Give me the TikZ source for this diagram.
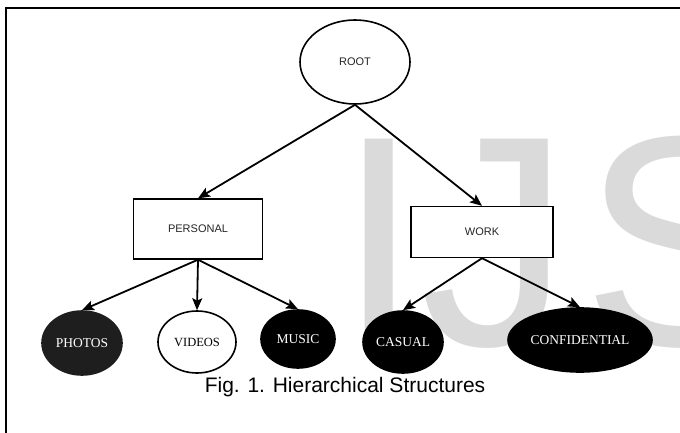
\documentclass[tikz,border=0pt]{standalone}
\usepackage{fontspec}
\setmainfont{Liberation Serif}
\newfontfamily\arialf{Liberation Sans}
\usetikzlibrary{shapes.geometric,arrows.meta}
\definecolor{wmgray}{RGB}{218,218,218}
\definecolor{photofill}{RGB}{30,30,30}
\begin{document}
\begin{tikzpicture}[x=1pt,y=-1pt,
  sansbox/.style={draw, line width=1.4pt, fill=white, rectangle, inner sep=0pt,
    font=\arialf\fontsize{11}{13}\selectfont, text=black!85},
  ovalw/.style={ellipse, draw, line width=1.6pt, fill=white, inner sep=0pt},
  ovalb/.style={ellipse, draw, line width=1.6pt, fill=black, text=white, inner sep=0pt,
    font=\fontsize{13.5}{15}\selectfont},
  edge/.style={line width=1.8pt, -{Stealth[length=12pt,width=10pt,inset=2.5pt]}}
]
\useasboundingbox (0,0) rectangle (680,433);
\clip (0,0) rectangle (680,433);
% watermark
\node[anchor=base west, inner sep=0pt, text=wmgray,
  font=\arialf\fontsize{300}{300}\selectfont] (wm) at (337,345) {IJ\kern12pt S};
% frame
\draw[line width=2pt] (6,433) -- (6,8) -- (680,8);
% nodes
\node[ovalw, minimum width=110pt, minimum height=84pt,
  font=\arialf\fontsize{11}{13}\selectfont, text=black!85] (root) at (355,62) {ROOT};
\node[sansbox, minimum width=129pt, minimum height=60pt] (personal) at (198,229) {PERSONAL};
\node[sansbox, minimum width=142pt, minimum height=51pt] (work) at (482,232) {WORK};
\node[ovalb, fill=photofill, draw=photofill, minimum width=80pt, minimum height=64pt] (photos) at (82,343) {PHOTOS};
\node[ovalw, minimum width=78pt, minimum height=62pt, font=\fontsize{12.5}{14}\selectfont] (videos) at (197,342) {VIDEOS};
\node[ovalb, minimum width=74pt, minimum height=58pt] (music) at (298,339) {MUSIC};
\node[ovalb, minimum width=80pt, minimum height=62pt] (casual) at (403,342) {CASUAL};
\node[ovalb, minimum width=144pt, minimum height=64pt] (conf) at (580,340) {CONFIDENTIAL};
% caption
\node[anchor=base, inner sep=0pt, font=\arialf\fontsize{21}{24}\selectfont] (cap) at (345,392) {Fig. 1. Hierarchical Structures};
% edges
\draw[edge] (root.south) -- (personal.north);
\draw[edge] (root.south) -- (work.north);
\draw[edge] (personal.south) -- (photos.north);
\draw[edge] (personal.south) -- (videos.north);
\draw[edge] (personal.south) -- (music.north);
\draw[edge] (work.south) -- (casual.north);
\draw[edge] (work.south) -- (conf.north);
\end{tikzpicture}
\end{document}
